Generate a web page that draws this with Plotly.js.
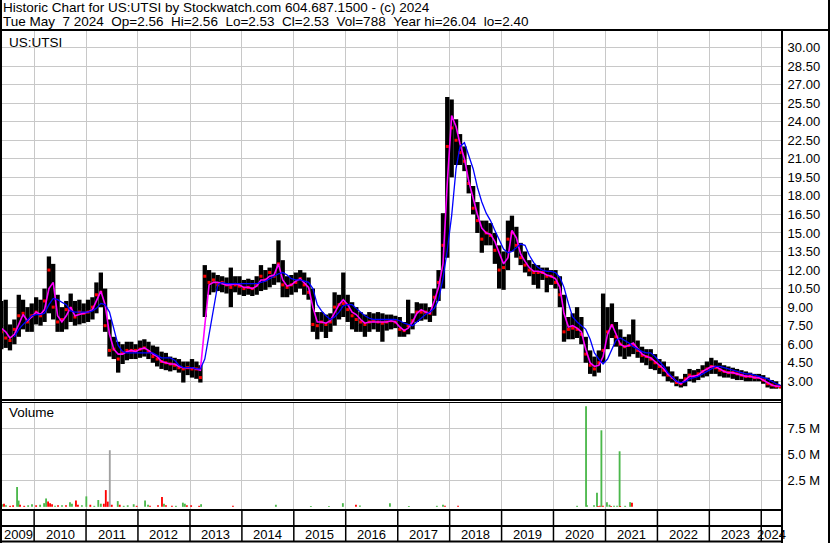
<!DOCTYPE html>
<html><head><meta charset="utf-8">
<script src="https://cdn.plot.ly/plotly-3.0.1.min.js"></script>
<style>html,body{margin:0;padding:0;background:#fff;overflow:hidden}</style>
</head><body><div id="chart" style="width:830px;height:543px"></div>
<script>
// ---- data (monthly summaries) ----
const MONTHS = [
 '2009-05','2009-06','2009-07','2009-08','2009-09','2009-10','2009-11','2009-12',
 '2010-01','2010-02','2010-03','2010-04','2010-05','2010-06','2010-07','2010-08','2010-09','2010-10','2010-11','2010-12',
 '2011-01','2011-02','2011-03','2011-04','2011-05','2011-06','2011-07','2011-08','2011-09','2011-10','2011-11','2011-12',
 '2012-01','2012-02','2012-03','2012-04','2012-05','2012-06','2012-07','2012-08','2012-09','2012-10','2012-11','2012-12',
 '2013-01','2013-02','2013-03','2013-04','2013-05','2013-06','2013-07','2013-08','2013-09','2013-10','2013-11','2013-12',
 '2014-01','2014-02','2014-03','2014-04','2014-05','2014-06','2014-07','2014-08','2014-09','2014-10','2014-11','2014-12',
 '2015-01','2015-02','2015-03','2015-04','2015-05','2015-06','2015-07','2015-08','2015-09','2015-10','2015-11','2015-12',
 '2016-01','2016-02','2016-03','2016-04','2016-05','2016-06','2016-07','2016-08','2016-09','2016-10','2016-11','2016-12',
 '2017-01','2017-02','2017-03','2017-04','2017-05','2017-06','2017-07','2017-08','2017-09','2017-10','2017-11','2017-12',
 '2018-01','2018-02','2018-03','2018-04','2018-05','2018-06','2018-07','2018-08','2018-09','2018-10','2018-11','2018-12',
 '2019-01','2019-02','2019-03','2019-04','2019-05','2019-06','2019-07','2019-08','2019-09','2019-10','2019-11','2019-12',
 '2020-01','2020-02','2020-03','2020-04','2020-05','2020-06','2020-07','2020-08','2020-09','2020-10','2020-11','2020-12',
 '2021-01','2021-02','2021-03','2021-04','2021-05','2021-06','2021-07','2021-08','2021-09','2021-10','2021-11','2021-12',
 '2022-01','2022-02','2022-03','2022-04','2022-05','2022-06','2022-07','2022-08','2022-09','2022-10','2022-11','2022-12',
 '2023-01','2023-02','2023-03','2023-04','2023-05','2023-06','2023-07','2023-08','2023-09','2023-10','2023-11','2023-12',
 '2024-01','2024-02','2024-03','2024-04','2024-05'
];
const HIGH = [
 9.5,9.6,7.6,8.0,10.0,9.6,9.0,9.3,
 9.8,9.6,10.5,13.1,12.5,10.0,9.0,9.5,10.1,9.5,9.6,9.3,
 9.6,9.8,11.0,11.8,10.5,8.0,6.6,6.2,6.0,6.2,6.2,6.0,
 6.3,6.4,6.2,5.9,5.8,5.4,5.3,5.0,4.9,4.8,4.6,4.6,
 4.8,4.6,4.3,12.4,12.0,11.8,11.6,11.5,11.4,12.2,11.5,11.5,
 11.2,11.3,11.2,11.5,12.4,12.0,12.2,12.5,14.4,12.8,11.5,11.6,
 11.8,12.0,11.8,11.4,10.5,8.6,8.6,8.4,8.5,10.2,10.0,11.8,
 10.0,9.4,9.0,8.6,8.4,8.6,8.5,8.6,8.5,8.4,8.4,8.3,
 8.2,7.8,9.6,8.5,9.4,9.3,9.3,9.0,10.5,12.0,16.6,26.0,
 25.8,24.2,23.0,22.0,20.5,18.8,17.5,16.0,16.0,15.8,15.0,14.0,
 13.5,16.0,16.4,15.5,14.2,13.5,12.8,12.5,12.4,12.2,12.2,12.0,
 12.0,11.5,10.0,8.2,8.5,9.0,8.2,6.6,5.5,5.0,5.5,10.1,
 9.0,9.3,7.8,7.2,6.6,6.8,8.0,6.3,5.8,5.6,5.6,5.2,
 4.8,4.6,4.2,3.8,3.4,3.2,3.6,4.0,3.9,4.0,4.3,4.6,
 4.9,4.7,4.5,4.3,4.2,4.1,4.0,3.9,3.8,3.7,3.6,3.6,
 3.5,3.3,3.1,3.0,2.7
];
const LOW = [
 5.6,5.7,5.5,6.0,6.6,7.2,7.0,7.0,
 7.6,7.5,7.8,8.5,8.0,7.0,7.0,7.2,7.8,7.5,7.6,7.7,
 7.8,8.0,8.5,9.0,7.0,5.0,4.8,3.7,4.4,4.7,4.8,4.8,
 4.9,5.0,4.8,4.5,4.2,4.0,3.9,3.8,3.9,3.7,2.9,3.5,
 3.3,3.2,2.9,8.2,10.0,10.2,10.3,10.2,10.1,9.0,10.2,10.0,
 9.9,10.0,9.9,10.0,10.3,10.4,10.6,10.8,11.0,9.8,9.8,10.0,
 10.2,10.5,10.0,9.6,7.0,6.4,7.0,6.5,7.0,7.5,8.0,8.2,
 7.8,7.2,7.0,7.0,6.6,7.0,7.2,7.0,6.2,7.1,7.2,7.3,
 6.6,6.6,6.8,7.2,7.8,7.9,8.0,7.8,8.3,9.5,10.5,13.0,
 19.5,20.5,20.5,20.0,18.2,16.5,15.0,13.4,14.0,14.0,12.5,10.5,
 10.4,12.0,13.5,13.0,12.4,11.8,11.5,10.8,10.5,11.2,10.2,10.8,
 10.5,9.0,6.2,6.4,6.4,6.5,6.0,4.5,3.6,3.4,3.7,4.5,
 5.6,6.5,5.8,5.0,4.8,5.0,5.2,4.9,4.5,4.3,4.0,3.9,
 3.6,3.4,3.0,2.9,2.6,2.5,2.6,3.0,2.9,3.1,3.3,3.4,
 3.6,3.6,3.4,3.3,3.3,3.2,3.1,3.1,3.0,3.0,3.0,3.0,
 2.8,2.5,2.4,2.4,2.5
];
const CLOSE = [
 7.0,6.5,6.3,7.2,8.3,8.5,7.8,8.3,
 8.6,8.3,9.5,12.0,9.0,7.8,8.0,8.8,8.9,8.2,8.6,8.5,
 8.6,9.0,10.0,10.2,7.5,5.5,5.6,4.8,5.3,5.5,5.5,5.5,
 5.6,5.7,5.4,5.0,4.8,4.6,4.5,4.4,4.3,4.1,4.0,4.1,
 4.0,4.0,3.3,11.5,11.0,11.2,10.8,11.0,10.8,10.6,10.8,10.7,
 10.5,10.6,10.5,10.8,11.5,11.2,11.8,11.5,12.5,10.8,10.6,10.8,
 11.0,11.3,10.8,10.2,7.6,7.5,7.8,7.6,7.8,9.0,9.2,9.3,
 8.8,8.3,8.0,7.8,7.6,7.8,7.9,7.8,7.7,7.8,7.9,7.8,
 7.2,7.1,7.5,7.9,8.6,8.6,8.6,8.5,9.8,11.0,14.0,22.0,
 23.5,22.5,21.5,20.8,19.0,17.0,16.0,14.5,15.0,14.8,13.6,12.0,
 12.2,14.5,15.0,14.0,13.0,12.4,12.0,11.8,11.8,11.8,11.5,11.5,
 11.0,10.0,7.0,7.2,7.3,7.2,6.8,5.2,4.3,4.0,4.5,5.5,
 7.0,7.5,6.6,6.0,5.8,5.9,5.9,5.5,5.1,5.0,4.8,4.5,
 4.2,3.9,3.5,3.3,2.9,2.8,3.2,3.5,3.4,3.6,3.8,4.0,
 4.2,4.1,3.9,3.8,3.7,3.7,3.6,3.5,3.4,3.4,3.3,3.3,
 3.1,2.8,2.7,2.6,2.53
];
const MA_SHORT = [
 7.3,7.0,6.5,6.8,7.6,8.4,7.9,8.2,
 8.6,8.4,8.8,10.5,11.0,8.3,7.8,8.3,9.0,8.3,8.4,8.5,
 8.6,8.8,9.5,10.3,9.2,6.8,5.6,5.2,5.2,5.4,5.5,5.4,
 5.6,5.7,5.5,5.2,5.0,4.6,4.5,4.4,4.4,4.2,4.1,4.1,
 4.1,4.0,3.9,7.5,10.8,11.0,11.0,10.9,10.8,10.8,10.9,10.8,
 10.6,10.6,10.5,10.7,11.2,11.2,11.5,11.6,12.5,11.2,10.7,10.8,
 11.1,11.3,11.0,10.6,9.0,7.8,7.8,7.7,7.9,8.6,9.2,9.6,
 9.2,8.6,8.4,8.0,7.7,7.8,7.8,7.8,7.8,7.8,7.9,7.8,
 7.4,7.1,7.3,7.8,8.5,8.8,8.6,8.5,9.5,10.6,12.5,19.0,
 24.5,23.6,22.2,21.0,19.2,17.8,16.5,15.4,15.0,14.9,14.3,13.4,
 12.5,13.0,15.2,14.6,13.3,12.7,12.2,11.9,11.9,11.8,11.6,11.5,
 11.3,10.6,8.5,7.4,7.5,7.3,7.0,5.6,4.5,4.2,4.3,5.0,
 6.8,7.6,6.8,6.0,5.8,5.9,6.1,5.6,5.2,5.0,4.9,4.6,
 4.3,4.0,3.6,3.3,3.0,2.8,3.1,3.4,3.4,3.5,3.8,4.0,
 4.2,4.2,4.0,3.8,3.7,3.7,3.6,3.5,3.4,3.4,3.3,3.3,
 3.1,2.9,2.7,2.6,2.6
];
const MA_LONG = [
 null,null,null,6.6,7.2,7.6,8.0,8.3,
 8.4,8.4,8.5,9.2,9.7,9.6,9.4,9.2,8.7,8.6,8.6,8.6,
 8.6,8.7,8.9,9.3,9.2,8.6,7.2,5.9,5.4,5.3,5.3,5.3,
 5.3,5.3,5.3,5.3,5.1,4.9,4.9,4.9,4.7,4.3,4.1,4.1,
 4.1,4.0,4.0,4.8,6.8,8.7,10.8,11.0,10.9,10.9,10.9,10.9,
 10.9,10.9,10.9,10.9,11.0,11.1,11.3,11.5,11.7,11.8,11.6,11.3,
 11.2,11.2,11.1,11.0,10.5,9.2,8.7,8.3,8.0,8.2,8.6,9.1,
 9.2,9.2,8.9,8.6,8.3,8.1,8.0,8.0,8.0,8.0,8.0,8.0,
 7.9,7.7,7.6,7.5,7.8,8.1,8.4,8.6,8.9,9.6,11.3,13.6,
 16.4,20.2,22.0,22.3,21.3,20.2,18.7,17.5,16.6,16.0,15.2,14.4,
 13.7,13.4,13.5,13.8,14.1,14.0,13.2,12.6,12.2,12.0,11.9,11.9,
 11.8,11.4,10.6,9.3,8.2,7.8,7.5,7.2,6.4,5.3,4.8,4.4,
 4.8,5.6,6.3,6.5,6.3,6.1,5.8,5.6,5.4,5.3,5.3,5.0,
 4.6,4.2,3.7,3.3,3.0,2.9,2.95,3.2,3.3,3.4,3.6,3.8,
 4.0,4.2,4.2,4.1,4.0,3.9,3.8,3.7,3.6,3.6,3.5,3.4,
 3.3,3.2,3.0,2.8,2.7
];
// volume spikes (millions of shares) and day direction: u = up, d = down, n = unchanged
const VOL_DATES = [
 '2009-05-20','2009-06-03','2009-06-17','2009-07-16','2009-08-06','2009-09-03','2009-09-14','2009-09-24','2009-10-23','2009-11-20','2009-12-17',
 '2010-01-15','2010-02-12','2010-03-12','2010-03-26','2010-04-09','2010-04-23','2010-05-07','2010-05-28','2010-06-18','2010-07-16','2010-08-13','2010-09-10','2010-09-24','2010-10-22','2010-11-05','2010-12-03',
 '2011-01-03','2011-01-31','2011-02-28','2011-03-28','2011-04-15','2011-05-06','2011-05-20','2011-06-03','2011-06-17','2011-07-01','2011-08-12','2011-08-26','2011-09-23','2011-10-21','2011-12-02','2011-12-23',
 '2012-02-20','2012-03-12','2012-03-26','2012-05-21','2012-06-18','2012-07-02','2012-07-16','2012-08-27','2012-09-24','2012-11-12','2012-11-26','2012-12-10',
 '2013-01-09','2013-03-06','2013-03-20','2013-10-30','2014-08-28','2015-05-01','2015-09-05','2015-12-12','2016-03-13','2016-04-10','2016-11-07',
 '2017-03-20','2017-10-03','2017-11-15','2017-11-29','2018-03-01',
 '2020-06-15','2020-08-17','2020-08-24','2020-10-12','2020-11-02','2020-11-09','2020-11-23','2020-12-03','2020-12-14',
 '2021-01-11','2021-01-29','2021-02-09','2021-03-02','2021-03-23','2021-04-10','2021-04-14','2021-05-19','2021-06-23','2021-07-06'
];
const VOL_M = [
 0.25,0.3,0.15,0.1,0.15,1.9,0.6,0.2,0.1,0.15,0.25,
 0.15,0.2,0.35,0.8,0.5,0.35,0.25,0.1,0.15,0.15,0.15,0.45,0.3,0.6,0.2,0.15,
 1.0,0.2,0.1,0.65,0.3,0.3,1.6,0.5,5.4,0.2,0.55,0.2,0.1,0.15,0.25,0.1,
 0.6,0.2,0.1,0.15,0.95,0.3,0.15,0.1,0.1,0.4,0.3,0.15,
 0.15,0.1,0.25,0.1,0.2,0.08,0.08,0.35,0.2,0.12,0.35,
 0.08,0.1,0.2,0.1,0.1,
 0.1,9.6,0.15,0.15,1.35,0.08,0.1,7.3,0.1,
 0.45,0.2,0.08,0.1,0.1,5.3,0.08,0.1,0.45,0.4
];
const VOL_DIR = [
 'u','d','u','d','d','u','u','d','d','u','u',
 'd','u','u','u','d','d','d','u','d','u','d','u','u','d','d','u',
 'u','d','u','u','u','d','d','d','n','d','u','d','u','u','u','d',
 'u','u','d','d','d','u','d','d','u','u','u','d',
 'd','d','u','d','u','u','u','u','d','u','u',
 'u','u','u','d','d',
 'u','u','u','u','u','d','d','u','d',
 'u','u','d','u','u','u','d','u','u','d'
];
const PRICE_TICKS = [3,4.5,6,7.5,9,10.5,12,13.5,15,16.5,18,19.5,21,22.5,24,25.5,27,28.5,30];
const VOL_TICKS = [2.5,5,7.5];
const VOL_TICK_TEXT = ['2.5 M','5.0 M','7.5 M'];
const YEARS = [2009,2010,2011,2012,2013,2014,2015,2016,2017,2018,2019,2020,2021,2022,2023,2024];
const HEADER1 = 'Historic Chart for US:UTSI by Stockwatch.com 604.687.1500 - (c) 2024';
const HEADER2 = 'Tue May  7 2024  Op=2.56  Hi=2.56  Lo=2.53  Cl=2.53  Vol=788  Year hi=26.04  lo=2.40';
const SYMBOL = 'US:UTSI';

// ---- drawing ----
const W = 830, H = 543;
const px = x => x / W, py = y => 1 - y / H;
const X_RANGE = ['2009-05-20', '2024-05-26'];
const DAY = 86400000;
const nb = s => s.replace(/ /g, '\u00a0');
const FONT = '"Liberation Sans", Arial, sans-serif';

const barX = MONTHS.map(m => m + '-15');
const traces = [
  {type:'bar', x:barX, base:LOW, y:HIGH.map((h,i)=>h-LOW[i]), width:30.4*DAY,
   marker:{color:'#000', line:{width:0}}, xaxis:'x', yaxis:'y'},
  {type:'scatter', mode:'markers', x:barX, y:CLOSE, marker:{color:'#ff0000', size:3, symbol:'square'},
   xaxis:'x', yaxis:'y'},
  {type:'scatter', mode:'lines', x:barX, y:MA_SHORT, line:{color:'#ff00ff', width:1.6}, xaxis:'x', yaxis:'y'},
  {type:'scatter', mode:'lines', x:barX, y:MA_LONG, line:{color:'#0000ff', width:1.3}, xaxis:'x', yaxis:'y'},
  {type:'bar', x:VOL_DATES, y:VOL_M, width:13*DAY,
   marker:{color:VOL_DIR.map(d => d==='u' ? '#4cb84c' : d==='d' ? '#ff0000' : '#a0a0a0'), line:{width:0}},
   xaxis:'x', yaxis:'y2'}
];

const yearStarts = YEARS.slice(1).map(y => y + '-01-01');
const shapes = [];
const hline = (y, x0, x1, w) => shapes.push({type:'line', xref:'paper', yref:'paper', x0:px(x0), x1:px(x1), y0:py(y), y1:py(y), line:{color:'#000', width:w}});
const vline = (x, y0, y1, w) => shapes.push({type:'line', xref:'paper', yref:'paper', x0:px(x), x1:px(x), y0:py(y0), y1:py(y1), line:{color:'#000', width:w}});
hline(30, 0, 830, 2);
vline(1, 0, 543, 2);
vline(829, 0, 543, 2);
vline(782, 30, 543, 2);
hline(400, 0, 782, 2);
hline(402.5, 0, 782, 1);
hline(510, 0, 782, 2);
hline(526, 0, 782, 2);
hline(541.5, 0, 782, 2);
yearStarts.forEach(d => shapes.push({type:'line', xref:'x', yref:'paper', x0:d, x1:d, y0:py(510), y1:py(541), line:{color:'#000', width:1.5}}));

const annotations = [
  {text:nb(HEADER1), xref:'paper', yref:'paper', x:px(1), y:py(7.5), xanchor:'left', yanchor:'middle', showarrow:false, font:{size:13.5}},
  {text:nb(HEADER2), xref:'paper', yref:'paper', x:px(1), y:py(21.5), xanchor:'left', yanchor:'middle', showarrow:false, font:{size:13.5}},
  {text:SYMBOL, xref:'paper', yref:'paper', x:px(7), y:py(42), xanchor:'left', yanchor:'middle', showarrow:false, font:{size:13.5}},
  {text:'Volume', xref:'paper', yref:'paper', x:px(7), y:py(412.5), xanchor:'left', yanchor:'middle', showarrow:false, font:{size:13.5}}
];
const r0 = new Date(X_RANGE[0]).getTime(), r1 = new Date(X_RANGE[1]).getTime();
YEARS.forEach(y => {
  const a = Math.max(new Date(y + '-01-01').getTime(), r0);
  const b = Math.min(new Date((y+1) + '-01-01').getTime(), r1);
  annotations.push({text:String(y), xref:'x', yref:'paper', x:new Date((a+b)/2).toISOString().slice(0,10),
    y:py(534.5), xanchor:'center', yanchor:'middle', showarrow:false, font:{size:13}});
});

const layout = {
  width:W, height:H, margin:{l:0, r:0, t:0, b:0}, paper_bgcolor:'#fff', plot_bgcolor:'#fff',
  showlegend:false, barmode:'overlay', hovermode:false,
  font:{family:FONT, size:13, color:'#000'},
  xaxis:{type:'date', domain:[px(2), px(782)], range:X_RANGE, tickvals:yearStarts, showticklabels:false,
    ticks:'', showgrid:true, gridcolor:'#c8c8c8', gridwidth:1, zeroline:false, showline:false, anchor:'y2'},
  yaxis:{domain:[py(400), py(30)], range:[1.487, 31.42], side:'right', anchor:'x', tickvals:PRICE_TICKS,
    ticktext:PRICE_TICKS.map(v => v.toFixed(2)), ticks:'outside', ticklen:2, tickcolor:'rgba(0,0,0,0)',
    showgrid:true, gridcolor:'#c8c8c8', gridwidth:1, zeroline:false, showline:false, tickfont:{size:13}},
  yaxis2:{domain:[py(510), py(402)], range:[-0.3, 10.0], side:'right', anchor:'x', tickvals:VOL_TICKS,
    ticktext:VOL_TICK_TEXT, ticks:'outside', ticklen:2, tickcolor:'rgba(0,0,0,0)',
    showgrid:true, gridcolor:'#c8c8c8', gridwidth:1, zeroline:false, showline:false, tickfont:{size:13}},
  shapes:shapes, annotations:annotations
};
Plotly.newPlot('chart', traces, layout, {staticPlot:true, displayModeBar:false});
</script></body></html>
